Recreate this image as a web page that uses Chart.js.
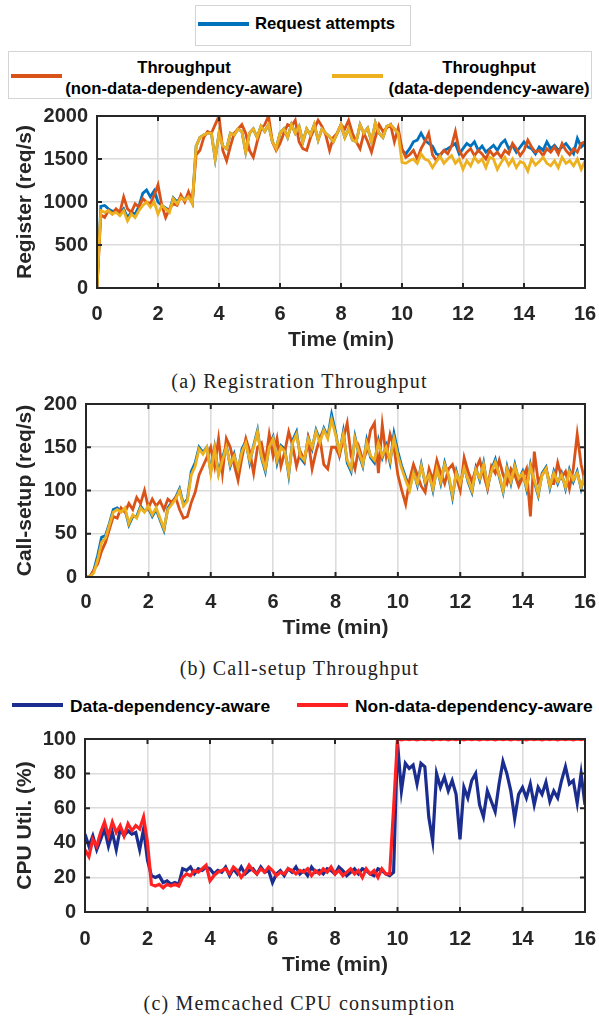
<!DOCTYPE html>
<html><head><meta charset="utf-8">
<script src="https://cdn.jsdelivr.net/npm/chart.js@4"></script>
<style>
body{margin:0;background:#fff;width:599px;height:1018px;position:relative;overflow:hidden;font-family:"Liberation Sans",Arial,sans-serif;}
canvas{position:absolute;left:0;}
.txt{position:absolute;font-weight:bold;color:#000;white-space:nowrap;line-height:1;}
.box{position:absolute;border:1px solid #d4d4d4;background:#fff;box-sizing:border-box;}
.sw{position:absolute;}
.cap{position:absolute;left:0;width:599px;text-align:center;font-family:"Liberation Serif",serif;font-size:20px;letter-spacing:1.2px;color:#222;line-height:22px;}
</style></head><body>

<div class="box" style="left:195px;top:5px;width:216px;height:41px;"></div>
<div class="sw" style="left:198px;top:22px;width:51px;height:4px;background:#0072BD;"></div>
<div class="txt" style="left:255px;top:16px;font-size:16.7px;">Request attempts</div>

<div class="box" style="left:8px;top:51px;width:584px;height:48px;"></div>
<div class="sw" style="left:11px;top:74px;width:51px;height:4px;background:#D95319;"></div>
<div class="txt" style="left:64px;width:240px;top:60px;font-size:16.7px;text-align:center;">Throughput</div>
<div class="txt" style="left:64px;width:240px;top:81px;font-size:16.7px;text-align:center;">(non-data-dependency-aware)</div>
<div class="sw" style="left:332px;top:74px;width:51px;height:4px;background:#EDB120;"></div>
<div class="txt" style="left:386px;width:206px;top:60px;font-size:16.7px;text-align:center;">Throughput</div>
<div class="txt" style="left:386px;width:206px;top:81px;font-size:16.7px;text-align:center;">(data-dependency-aware)</div>

<canvas id="cA" width="599" height="250" style="top:106px"></canvas>
<div class="cap" style="top:370px">(a) Registration Throughput</div>
<canvas id="cB" width="599" height="250" style="top:394px"></canvas>
<div class="cap" style="top:657px">(b) Call-setup Throughput</div>

<div class="sw" style="left:12px;top:703px;width:51px;height:3.5px;background:#1B2E8F;"></div>
<div class="txt" style="left:70px;top:698px;font-size:17.4px;">Data-dependency-aware</div>
<div class="sw" style="left:297px;top:703px;width:51px;height:3.5px;background:#FF2222;"></div>
<div class="txt" style="left:355px;top:698px;font-size:17.4px;">Non-data-dependency-aware</div>

<canvas id="cC" width="599" height="250" style="top:729px"></canvas>
<div class="cap" style="top:992px">(c) Memcached CPU consumption</div>

<script>
// ---- time axis (minutes) ----
const times = [
0,0.125,0.25,0.375,0.5,0.625,0.75,0.875,
1,1.125,1.25,1.375,1.5,1.625,1.75,1.875,
2,2.125,2.25,2.375,2.5,2.625,2.75,2.875,
3,3.125,3.25,3.375,3.5,3.625,3.75,3.875,
4,4.125,4.25,4.375,4.5,4.625,4.75,4.875,
5,5.125,5.25,5.375,5.5,5.625,5.75,5.875,
6,6.125,6.25,6.375,6.5,6.625,6.75,6.875,
7,7.125,7.25,7.375,7.5,7.625,7.75,7.875,
8,8.125,8.25,8.375,8.5,8.625,8.75,8.875,
9,9.125,9.25,9.375,9.5,9.625,9.75,9.875,
10,10.125,10.25,10.375,10.5,10.625,10.75,10.875,
11,11.125,11.25,11.375,11.5,11.625,11.75,11.875,
12,12.125,12.25,12.375,12.5,12.625,12.75,12.875,
13,13.125,13.25,13.375,13.5,13.625,13.75,13.875,
14,14.125,14.25,14.375,14.5,14.625,14.75,14.875,
15,15.125,15.25,15.375,15.5,15.625,15.75,15.875,
16];
const xTicks = [0,2,4,6,8,10,12,14,16];

// ---- (a) Registration throughput (req/s) ----
const regAttempts = [
0,950,960,920,890,900,860,920,
820,880,860,950,1100,1140,1060,1130,
1000,960,930,900,1050,1000,1060,1030,
1070,985,1650,1750,1780,1800,1800,1500,
1800,1650,1620,1800,1780,1850,1820,1580,
1800,1850,1750,1880,1820,1900,1700,1620,
1800,1850,1750,1900,1800,1880,1700,1850,
1780,1900,1720,1850,1800,1760,1700,1800,
1900,1750,1850,1720,1700,1900,1800,1860,
1700,1920,1800,1750,1880,1900,1850,1800,
1600,1560,1620,1700,1720,1800,1720,1680,
1650,1560,1540,1600,1620,1650,1680,1560,
1620,1680,1650,1700,1600,1650,1580,1620,
1660,1600,1680,1720,1620,1660,1580,1640,
1700,1640,1620,1560,1640,1600,1700,1620,
1660,1600,1640,1680,1620,1560,1740,1640,
1680];
const regNonAware = [
0,850,820,900,860,920,880,1060,
920,880,980,940,1040,1000,980,1080,
1200,960,820,920,980,960,1080,1000,
1120,1000,1550,1600,1750,1820,1800,1900,
2000,1600,1480,1650,1800,1850,1900,1800,
1600,1520,1700,1850,1900,2000,1700,1600,
1680,1800,1900,1880,1950,1700,1620,1600,
1750,1850,1950,1880,1780,1600,1750,1800,
1900,1850,1950,1800,1700,1620,1800,1700,
1580,1750,1900,1820,1860,1900,1700,1860,
1620,1520,1550,1600,1500,1620,1700,1800,
1550,1480,1550,1600,1560,1650,1820,1600,
1520,1580,1620,1540,1600,1560,1500,1600,
1540,1580,1520,1600,1560,1680,1620,1540,
1600,1720,1640,1580,1600,1540,1620,1580,
1640,1560,1680,1600,1550,1620,1580,1680,
1700];
const regAware = [
0,900,880,900,860,880,840,900,
780,860,820,900,960,1000,940,1000,
860,960,920,880,1040,980,1050,1020,
1060,980,1650,1750,1780,1800,1800,1500,
1800,1650,1620,1800,1780,1850,1820,1580,
1800,1850,1750,1880,1820,1900,1700,1620,
1800,1850,1750,1900,1800,1880,1700,1850,
1780,1900,1720,1850,1800,1760,1700,1800,
1900,1750,1850,1720,1700,1900,1800,1860,
1700,1920,1800,1750,1880,1900,1850,1800,
1460,1450,1480,1500,1450,1560,1500,1480,
1400,1470,1530,1450,1500,1540,1450,1500,
1380,1480,1420,1520,1460,1500,1400,1520,
1500,1380,1460,1520,1430,1500,1400,1470,
1450,1360,1500,1430,1470,1520,1450,1420,
1480,1400,1520,1450,1480,1420,1500,1380,
1480];

// ---- (b) Call-setup throughput (req/s) ----
const callAttempts = [
0,0,8,25,46,48,62,78,
80,76,78,60,70,70,82,76,
80,70,78,66,54,80,86,92,
102,84,90,122,132,150,144,150,
122,150,120,138,152,128,142,122,
148,157,132,152,170,138,122,152,
162,132,152,148,118,158,168,138,
132,162,148,170,158,172,162,188,
168,142,168,132,122,162,142,128,
158,138,132,158,138,152,132,166,
145,128,115,102,122,106,130,108,
120,100,127,108,132,116,92,122,
106,128,110,98,126,112,132,103,
124,136,116,98,127,108,130,112,
122,102,130,110,94,120,127,103,
122,108,120,102,124,110,122,102,
120];
const callNonAware = [
0,0,8,15,30,40,55,70,
68,80,75,85,78,92,85,100,
80,90,82,88,78,90,86,92,
78,68,70,86,98,118,128,138,
150,128,160,120,160,150,130,112,
138,160,145,120,150,155,132,165,
140,160,128,145,168,152,128,145,
135,158,125,145,160,130,125,150,
150,140,160,178,140,125,150,135,
145,170,178,120,176,140,165,150,
118,100,84,112,130,118,105,98,
125,112,135,120,108,125,130,115,
100,138,122,110,125,135,118,102,
128,120,135,118,108,125,118,105,
115,125,70,145,110,118,125,108,
108,132,115,122,102,125,165,130,
110];
const callAware = [
0,0,5,20,40,45,60,75,
78,75,80,62,72,68,80,75,
82,72,80,68,56,78,84,90,
100,82,88,118,128,148,142,150,
120,148,118,135,150,130,140,125,
145,155,135,150,168,140,125,150,
160,135,150,145,120,155,165,140,
135,160,150,168,155,170,160,182,
165,145,165,135,125,160,145,130,
155,140,135,155,140,150,135,160,
140,125,112,100,120,108,128,110,
118,102,125,110,130,118,95,120,
108,126,112,100,124,114,130,105,
122,133,118,100,125,110,128,114,
120,104,128,112,96,118,125,105,
120,110,118,104,122,112,120,104,
118];

// ---- (c) Memcached CPU utilisation (%) ----
const cpuAware = [
45,38,44,36,42,48,38,46,
36,48,44,47,45,46,36,48,
30,21,20,21,17,18,16,17,
16,25,24,26,22,25,24,26,
25,22,24,23,26,21,25,22,
26,22,24,25,22,26,23,24,
17,22,24,21,25,23,26,22,
24,21,26,23,24,22,25,24,
22,26,24,21,23,25,22,25,
24,22,21,25,24,22,21,23,
98,70,86,83,85,74,86,84,
55,41,80,72,78,70,76,68,
42,72,66,76,80,62,55,70,
64,58,74,87,80,70,54,68,
72,66,74,62,72,68,75,64,
70,66,76,84,74,76,63,80,
62];
const cpuNonAware = [
36,32,42,38,46,52,44,52,
46,50,44,51,47,50,48,55,
40,16,15,16,14,16,15,16,
15,20,22,21,24,23,25,27,
18,21,23,24,25,22,26,24,
20,23,27,24,22,25,23,26,
24,21,23,22,25,24,22,24,
23,25,21,24,22,25,23,26,
22,24,21,23,25,22,24,20,
25,22,24,20,25,22,22,60,
100,99.5,100,99.6,100,99.5,100,99.6,
100,99.5,100,99.6,100,99.5,100,99.6,
100,99.5,100,99.6,100,99.5,100,99.6,
100,99.5,100,99.6,100,99.5,100,99.6,
100,99.5,100,99.6,100,99.5,100,99.6,
100,99.5,100,99.6,100,99.5,100,99.6,
100];

const AXIS = '#262626';
const FONT = '"Liberation Sans", Arial, sans-serif';
Chart.defaults.font.family = FONT;
Chart.defaults.color = AXIS;

function pts(vals){ return times.map((t,i)=>({x:t, y:vals[i]})); }

const boxPlugin = {
  id:'boxTicks',
  afterDraw(chart){
    const {ctx, chartArea:{left,right,top,bottom}, scales:{x,y}} = chart;
    ctx.save();
    ctx.strokeStyle = AXIS; ctx.lineWidth = 2;
    ctx.beginPath();
    x.ticks.forEach(t=>{ const p = x.getPixelForValue(t.value);
      ctx.moveTo(p,bottom); ctx.lineTo(p,bottom-5); ctx.moveTo(p,top); ctx.lineTo(p,top+5); });
    y.ticks.forEach(t=>{ const p = y.getPixelForValue(t.value);
      ctx.moveTo(left,p); ctx.lineTo(left+5,p); ctx.moveTo(right,p); ctx.lineTo(right-5,p); });
    ctx.stroke();
    ctx.strokeRect(left,top,right-left,bottom-top);
    ctx.restore();
  }
};

function makeChart(id, datasets, cfg){
  return new Chart(document.getElementById(id), {
    type:'line',
    data:{datasets},
    plugins:[boxPlugin],
    options:{
      responsive:false, animation:false, devicePixelRatio:1,
      layout:{padding:{left:0,right:14,top:10,bottom:0}},
      plugins:{legend:{display:false}, tooltip:{enabled:false}},
      elements:{point:{radius:0}, line:{tension:0}},
      scales:{
        x:{type:'linear', min:0, max:16,
           afterBuildTicks(s){ s.ticks = xTicks.map(v=>({value:v})); },
           afterFit(s){ s.height = cfg.xh; s.paddingLeft = 0; s.paddingRight = 0; },
           grid:{color:'#dcdcdc', lineWidth:1.6, drawTicks:false},
           border:{display:false},
           ticks:{padding:cfg.xtp, font:{size:20, weight:'bold'}, color:AXIS, maxRotation:0,
                  callback:(v)=>String(v)},
           title:{display:true, text:'Time (min)', font:{size:21, weight:'bold'}, color:AXIS, padding:{top:0,bottom:cfg.xtb}}
        },
        y:{min:0, max:cfg.ymax,
           afterBuildTicks(s){ s.ticks = cfg.yticks.map(v=>({value:v})); },
           afterFit(s){ s.width = cfg.yw; s.paddingTop = 0; s.paddingBottom = 0; },
           grid:{color:'#dcdcdc', lineWidth:1.6, drawTicks:false},
           border:{display:false},
           ticks:{padding:9, font:{size:20, weight:'bold'}, color:AXIS, callback:(v)=>String(v)},
           title:{display:true, text:cfg.ytitle, font:{size:21, weight:'bold'}, color:AXIS, padding:{top:13,bottom:0}}
        }
      }
    }
  });
}

const regTicks = [0,500,1000,1500,2000];
const callTicks = [0,50,100,150,200];
const cpuTicks = [0,20,40,60,80,100];

makeChart('cA', [
  {data:pts(regAware), borderColor:'#EDB120', borderWidth:2.8, order:0},
  {data:pts(regNonAware), borderColor:'#D95319', borderWidth:2.8, order:1},
  {data:pts(regAttempts), borderColor:'#0072BD', borderWidth:2.8, order:2}
], {xh:68, xtp:14, xtb:3, yw:97, ymax:2000, yticks:regTicks, ytitle:'Register (req/s)'});

makeChart('cB', [
  {data:pts(callAware), borderColor:'#EDB120', borderWidth:2.8, order:0},
  {data:pts(callNonAware), borderColor:'#D95319', borderWidth:2.8, order:1},
  {data:pts(callAttempts), borderColor:'#0072BD', borderWidth:2.8, order:2}
], {xh:67, xtp:13, xtb:3, yw:86, ymax:200, yticks:callTicks, ytitle:'Call-setup (req/s)'});

makeChart('cC', [
  {data:pts(cpuNonAware), borderColor:'#FF2222', borderWidth:3.2, order:0},
  {data:pts(cpuAware), borderColor:'#1B2E8F', borderWidth:3.2, order:1}
], {xh:67, xtp:15, xtb:1, yw:85, ymax:100, yticks:cpuTicks, ytitle:'CPU Util. (%)'});
</script>
</body></html>
